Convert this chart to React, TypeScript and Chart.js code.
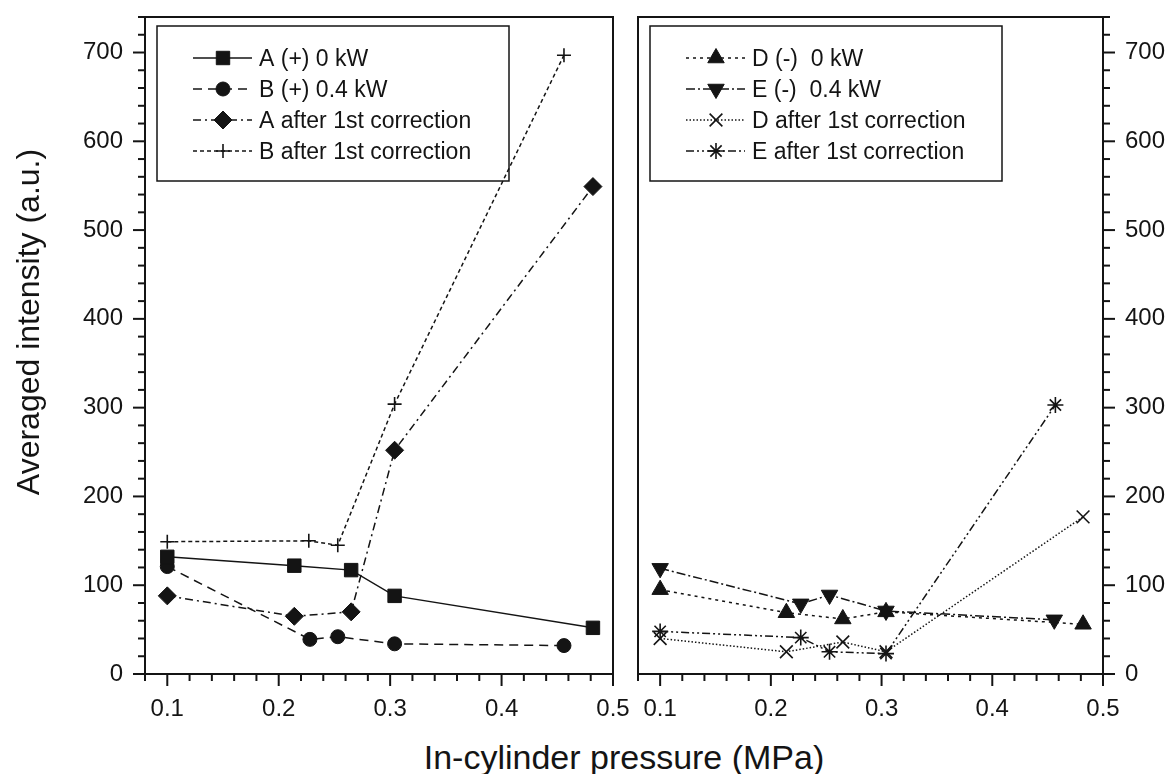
import React, { useEffect, useRef } from 'react';
import { Chart, registerables } from 'chart.js';
import { drawPoint } from 'chart.js/helpers';

Chart.register(...registerables);

// ---------- data ----------
// Left panel
const pressA0 = [0.1, 0.214, 0.265, 0.304, 0.482];
const intA0 = [132, 122, 117, 88, 52];
const pressB04 = [0.1, 0.228, 0.253, 0.304, 0.456];
const intB04 = [121, 39, 42, 34, 32];
const pressAcorr = [0.1, 0.214, 0.265, 0.304, 0.482];
const intAcorr = [88, 65, 70, 252, 549];
const pressBcorr = [0.1, 0.227, 0.253, 0.304, 0.456];
const intBcorr = [149, 150, 145, 304, 697];

// Right panel
const pressD0 = [0.1, 0.214, 0.265, 0.304, 0.482];
const intD0 = [95, 69, 62, 70, 56];
const pressE04 = [0.1, 0.227, 0.253, 0.304, 0.456];
const intE04 = [119, 79, 89, 71, 61];
const pressDcorr = [0.1, 0.214, 0.265, 0.304, 0.482];
const intDcorr = [40, 25, 36, 25, 177];
const pressEcorr = [0.1, 0.227, 0.253, 0.304, 0.457];
const intEcorr = [48, 41, 25, 23, 303];

// Tick labels
const xMajor = [0.1, 0.2, 0.3, 0.4, 0.5];
const xTickLabels = ['0.1', '0.2', '0.3', '0.4', '0.5'];
const yMajor = [0, 100, 200, 300, 400, 500, 600, 700];
const yTickLabels = ['0', '100', '200', '300', '400', '500', '600', '700'];

const xTitle = 'In-cylinder pressure (MPa)';
const yTitle = 'Averaged intensity (a.u.)';

const leftLabels = ['A (+) 0 kW', 'B (+) 0.4 kW', 'A after 1st correction', 'B after 1st correction'];
const rightLabels = ['D (-)  0 kW', 'E (-)  0.4 kW', 'D after 1st correction', 'E after 1st correction'];

// ---------- styling ----------
const FONT = '"Liberation Sans", Arial, Helvetica, sans-serif';
const INK = '#141414';

type Series = {
  label: string;
  x: number[];
  y: number[];
  style: string;
  rotation: number;
  radius: number;
  bw: number;
  dash: number[];
};

const leftSeries: Series[] = [
  { label: leftLabels[0], x: pressA0, y: intA0, style: 'rect', rotation: 0, radius: 9.5, bw: 1, dash: [] },
  { label: leftLabels[1], x: pressB04, y: intB04, style: 'circle', rotation: 0, radius: 7, bw: 1, dash: [9, 6] },
  { label: leftLabels[2], x: pressAcorr, y: intAcorr, style: 'rectRot', rotation: 0, radius: 9, bw: 1, dash: [8, 4, 2, 4] },
  { label: leftLabels[3], x: pressBcorr, y: intBcorr, style: 'cross', rotation: 0, radius: 7, bw: 1.6, dash: [4, 3] },
];

const rightSeries: Series[] = [
  { label: rightLabels[0], x: pressD0, y: intD0, style: 'triangle', rotation: 0, radius: 9.5, bw: 1, dash: [3, 4] },
  { label: rightLabels[1], x: pressE04, y: intE04, style: 'triangle', rotation: 180, radius: 9.5, bw: 1, dash: [9, 3, 2, 3] },
  { label: rightLabels[2], x: pressDcorr, y: intDcorr, style: 'crossRot', rotation: 0, radius: 9, bw: 1.6, dash: [1.5, 2] },
  { label: rightLabels[3], x: pressEcorr, y: intEcorr, style: 'star', rotation: 0, radius: 8, bw: 1.6, dash: [8, 3, 2, 3, 2, 3] },
];

function isMajor(v: number, majors: number[]) {
  return majors.findIndex((m) => Math.abs(m - v) < 1e-6);
}

function zeroPad(s: any) {
  s.paddingTop = 0;
  s.paddingBottom = 0;
  s.paddingLeft = 0;
  s.paddingRight = 0;
}

function panelPlugin(side: 'left' | 'right', series: Series[]) {
  return {
    id: 'panel-' + side,
    afterDraw(chart: any) {
      const ctx = chart.ctx as CanvasRenderingContext2D;
      const { left, right, top, bottom } = chart.chartArea;
      const xs = chart.scales.x;
      const ys = chart.scales.y;
      ctx.save();
      ctx.strokeStyle = INK;
      ctx.fillStyle = INK;
      ctx.setLineDash([]);
      // frame
      ctx.lineWidth = 2;
      ctx.strokeRect(left, top, right - left, bottom - top);
      // x ticks
      xs.ticks.forEach((t: any) => {
        const px = xs.getPixelForValue(t.value);
        const len = isMajor(t.value, xMajor) >= 0 ? 12 : 7;
        ctx.beginPath();
        ctx.moveTo(px, bottom);
        ctx.lineTo(px, bottom + len);
        ctx.stroke();
      });
      // y ticks
      ys.ticks.forEach((t: any) => {
        const py = ys.getPixelForValue(t.value);
        const len = isMajor(t.value, yMajor) >= 0 ? 12 : 7;
        ctx.beginPath();
        if (side === 'left') {
          ctx.moveTo(left, py);
          ctx.lineTo(left - len, py);
        } else {
          ctx.moveTo(right, py);
          ctx.lineTo(right + len, py);
        }
        ctx.stroke();
      });
      // legend
      const bx = left + 12;
      const by = top + 9;
      ctx.lineWidth = 1.5;
      ctx.strokeRect(bx, by, 352, 155);
      const rows = [32, 63, 94, 125];
      series.forEach((s, i) => {
        const ry = by + rows[i];
        ctx.setLineDash(s.dash);
        ctx.lineWidth = 1.5;
        ctx.strokeStyle = INK;
        ctx.beginPath();
        ctx.moveTo(bx + 36, ry);
        ctx.lineTo(bx + 95, ry);
        ctx.stroke();
        ctx.setLineDash([]);
        ctx.lineWidth = s.bw;
        ctx.fillStyle = INK;
        drawPoint(ctx, { pointStyle: s.style as any, rotation: s.rotation, radius: s.radius, borderWidth: s.bw } as any, bx + 66, ry);
        ctx.font = `23px ${FONT}`;
        ctx.textBaseline = 'alphabetic';
        ctx.textAlign = 'left';
        ctx.fillText(s.label, bx + 102, ry + 8.3);
      });
      ctx.restore();
    },
  };
}

function makeConfig(side: 'left' | 'right', series: Series[]) {
  return {
    type: 'scatter' as const,
    data: {
      datasets: series.map((s) => ({
        label: s.label,
        data: s.x.map((x, i) => ({ x, y: s.y[i] })),
        showLine: true,
        borderColor: INK,
        borderWidth: 1.5,
        borderDash: s.dash,
        tension: 0,
        pointStyle: s.style,
        pointRotation: s.rotation,
        pointRadius: s.radius,
        pointHoverRadius: s.radius,
        pointBackgroundColor: INK,
        pointBorderColor: INK,
        pointBorderWidth: s.bw,
        clip: false,
      })),
    },
    options: {
      responsive: false,
      animation: false,
      devicePixelRatio: 1,
      layout: {
        padding: side === 'left' ? { left: 0, top: 17, right: 27, bottom: 0 } : { left: 13, top: 17, right: 0, bottom: 0 },
      },
      plugins: { legend: { display: false }, tooltip: { enabled: false }, title: { display: false } },
      scales: {
        x: {
          type: 'linear',
          min: 0.08,
          max: 0.5,
          grid: { display: false, drawTicks: false },
          border: { display: false },
          ticks: {
            stepSize: 0.02,
            autoSkip: false,
            maxRotation: 0,
            minRotation: 0,
            padding: 21,
            color: INK,
            font: { family: FONT, size: 24 },
            callback: (v: any) => {
              const i = isMajor(Number(v), xMajor);
              return i >= 0 ? xTickLabels[i] : '';
            },
          },
          afterFit: (s: any) => {
            s.height = 46;
            zeroPad(s);
          },
        },
        y: {
          type: 'linear',
          position: side,
          min: 0,
          max: 740,
          grid: { display: false, drawTicks: false },
          border: { display: false },
          ticks: {
            stepSize: 20,
            autoSkip: false,
            padding: 22,
            color: INK,
            font: { family: FONT, size: 24 },
            callback: (v: any) => {
              const i = isMajor(Number(v), yMajor);
              return i >= 0 ? yTickLabels[i] : '';
            },
          },
          afterFit: (s: any) => {
            s.width = side === 'left' ? 145 : 71;
            zeroPad(s);
          },
        },
      },
    },
    plugins: [panelPlugin(side, series)],
  };
}

function Panel(props: { side: 'left' | 'right'; series: Series[]; left: number; width: number; height: number }) {
  const ref = useRef<HTMLCanvasElement | null>(null);
  useEffect(() => {
    if (!ref.current) return;
    const chart = new Chart(ref.current, makeConfig(props.side, props.series) as any);
    return () => chart.destroy();
  }, []);
  return (
    <canvas
      ref={ref}
      width={props.width}
      height={props.height}
      style={{ position: 'absolute', left: props.left, top: 0, width: props.width, height: props.height }}
    />
  );
}

export default function App() {
  return (
    <div style={{ position: 'absolute', left: 0, top: 0, width: 1174, height: 774, background: '#fff', overflow: 'hidden' }}>
      <Panel side="left" series={leftSeries} left={0} width={640} height={720} />
      <Panel side="right" series={rightSeries} left={625} width={549} height={720} />
      <div
        style={{
          position: 'absolute',
          left: 324,
          top: 740,
          width: 600,
          textAlign: 'center',
          fontFamily: FONT,
          fontSize: 34,
          lineHeight: '34px',
          color: INK,
          whiteSpace: 'nowrap',
        }}
      >
        {xTitle}
      </div>
      <div
        style={{
          position: 'absolute',
          left: -172,
          top: 306,
          width: 400,
          height: 32,
          textAlign: 'center',
          fontFamily: FONT,
          fontSize: 32,
          lineHeight: '32px',
          color: INK,
          whiteSpace: 'nowrap',
          transform: 'rotate(-90deg)',
        }}
      >
        {yTitle}
      </div>
    </div>
  );
}
